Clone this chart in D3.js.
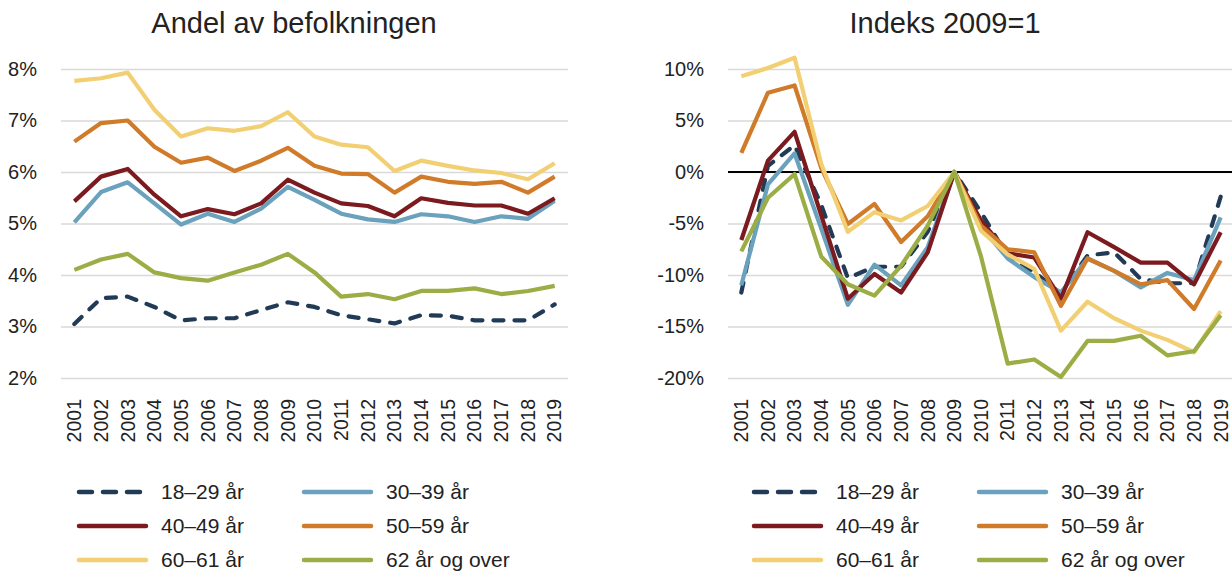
<!DOCTYPE html>
<html>
<head>
<meta charset="utf-8">
<script src="https://cdn.jsdelivr.net/npm/d3@7"></script>
<style>
  html, body { margin: 0; padding: 0; background: #fff; }
  svg { display: block; font-family: "Liberation Sans", Arial, sans-serif; }
</style>
</head>
<body>
<svg id="chart" width="1232" height="574"></svg>
<script>
const years = ["2001","2002","2003","2004","2005","2006","2007","2008","2009","2010","2011","2012","2013","2014","2015","2016","2017","2018","2019"];
const seriesNames = ["18–29 år", "30–39 år", "40–49 år", "50–59 år", "60–61 år", "62 år og over"];
const seriesColors = ["#213b56", "#6aa1bd", "#7b1a1f", "#d07b29", "#f1cf72", "#9bad45"];

// Andel av befolkningen (%)
const andel18 = [3.05, 3.55, 3.58, 3.38, 3.12, 3.16, 3.16, 3.32, 3.47, 3.38, 3.22, 3.14, 3.06, 3.22, 3.21, 3.12, 3.12, 3.12, 3.43];
const andel30 = [5.02, 5.61, 5.80, 5.39, 4.98, 5.19, 5.03, 5.29, 5.71, 5.46, 5.19, 5.08, 5.03, 5.18, 5.14, 5.03, 5.14, 5.09, 5.44];
const andel40 = [5.43, 5.91, 6.06, 5.56, 5.14, 5.28, 5.18, 5.39, 5.85, 5.60, 5.39, 5.34, 5.14, 5.49, 5.40, 5.35, 5.35, 5.19, 5.49];
const andel50 = [6.59, 6.95, 7.00, 6.49, 6.18, 6.28, 6.02, 6.22, 6.47, 6.12, 5.97, 5.96, 5.60, 5.91, 5.81, 5.77, 5.81, 5.60, 5.91];
const andel60 = [7.77, 7.82, 7.93, 7.21, 6.69, 6.85, 6.80, 6.89, 7.16, 6.69, 6.53, 6.48, 6.02, 6.22, 6.12, 6.03, 5.98, 5.86, 6.17];
const andel62 = [4.10, 4.30, 4.41, 4.05, 3.94, 3.89, 4.05, 4.20, 4.41, 4.05, 3.58, 3.63, 3.53, 3.69, 3.69, 3.74, 3.63, 3.69, 3.79];

// Indeks 2009=1 (% avvik)
const indeks18 = [-11.7, 0.6, 2.6, -3.2, -10.3, -9.2, -9.2, -5.8, 0, -3.9, -8.2, -9.7, -11.8, -8.1, -7.8, -10.4, -10.8, -10.8, -2.4];
const indeks30 = [-11.0, -1.2, 1.8, -5.5, -12.9, -9.0, -11.0, -7.3, 0, -5.3, -8.4, -10.2, -11.7, -8.4, -9.6, -11.2, -9.8, -10.5, -4.4];
const indeks40 = [-6.6, 1.1, 3.9, -4.2, -12.3, -9.9, -11.7, -7.8, 0, -4.7, -7.9, -8.3, -12.3, -5.85, -7.3, -8.8, -8.8, -10.9, -5.85];
const indeks50 = [1.85, 7.7, 8.4, 0.4, -5.05, -3.1, -6.8, -4.3, 0, -5.2, -7.5, -7.8, -13.0, -8.4, -9.6, -10.9, -10.5, -13.3, -8.6];
const indeks60 = [9.3, 10.1, 11.1, 0.8, -5.8, -3.9, -4.7, -3.3, 0, -5.7, -8.0, -9.4, -15.4, -12.6, -14.2, -15.4, -16.3, -17.5, -13.5];
const indeks62 = [-7.7, -2.5, -0.2, -8.2, -10.9, -12.0, -9.1, -5.2, 0, -8.2, -18.6, -18.2, -19.9, -16.4, -16.4, -15.9, -17.8, -17.4, -13.9];

const leftTicks = [2, 3, 4, 5, 6, 7, 8];
const rightTicks = [-20, -15, -10, -5, 0, 5, 10];

const svg = d3.select("#chart");
const textColor = "#222";
const gridColor = "#d9d9d9";

function panel(opts) {
  const g = svg.append("g");
  const x = d3.scaleBand().domain(years).range([opts.x0, opts.x1]);
  const y = d3.scaleLinear().domain(opts.domain).range([378, 69]);

  // title
  g.append("text")
    .attr("x", opts.titleX).attr("y", 33)
    .attr("text-anchor", "middle")
    .attr("font-size", 29)
    .attr("fill", textColor)
    .text(opts.title);

  // gridlines
  const yAxis = d3.axisLeft(y).tickValues(opts.ticks)
    .tickSize(-(opts.x1 - opts.x0)).tickFormat(d => d + "%").tickPadding(24);
  const ya = g.append("g").attr("transform", `translate(${opts.x0},0)`).call(yAxis);
  ya.select(".domain").remove();
  ya.selectAll(".tick line").attr("stroke", gridColor).attr("stroke-width", 1.5);
  ya.selectAll(".tick text").attr("font-size", 20).attr("fill", textColor)
    .attr("font-family", "'Liberation Sans', Arial, sans-serif");

  if (opts.zeroLine) {
    g.append("line")
      .attr("x1", opts.x0).attr("x2", opts.x1)
      .attr("y1", y(0)).attr("y2", y(0))
      .attr("stroke", "#000").attr("stroke-width", 2.2);
  }

  // x axis labels
  const xAxis = d3.axisBottom(x).tickSize(0).tickPadding(0);
  const xa = g.append("g").attr("transform", `translate(0,378)`).call(xAxis);
  xa.select(".domain").remove();
  xa.selectAll(".tick text")
    .attr("font-size", 19.5).attr("fill", textColor)
    .attr("font-family", "'Liberation Sans', Arial, sans-serif")
    .attr("text-anchor", "end")
    .attr("transform", "translate(0,21) rotate(-90)")
    .attr("x", 0).attr("y", 0).attr("dy", "0.35em");

  const line = d3.line()
    .x((d, i) => x(years[i]) + x.bandwidth() / 2)
    .y(d => y(d));

  opts.series.forEach((vals, k) => {
    g.append("path")
      .datum(vals)
      .attr("d", line)
      .attr("fill", "none")
      .attr("stroke", seriesColors[k])
      .attr("stroke-width", 4.2)
      .attr("stroke-linejoin", "round")
      .attr("stroke-linecap", k === 0 ? "round" : "butt")
      .attr("stroke-dasharray", k === 0 ? "10,11" : null);
  });

  // legend
  const cols = [opts.legendX, opts.legendX + 225];
  const rows = [492, 526, 560];
  seriesNames.forEach((name, k) => {
    const cx = cols[k % 2];
    const cy = rows[Math.floor(k / 2)];
    const lg = g.append("g");
    lg.append("line")
      .attr("x1", cx + 2).attr("x2", cx + 69)
      .attr("y1", cy).attr("y2", cy)
      .attr("stroke", seriesColors[k])
      .attr("stroke-width", 4.5)
      .attr("stroke-linecap", "round")
      .attr("stroke-dasharray", k === 0 ? "13,11" : null);
    lg.append("text")
      .attr("x", cx + 84).attr("y", cy).attr("dy", "0.35em")
      .attr("font-size", 21).attr("fill", textColor)
      .text(name);
  });
}

panel({
  title: "Andel av befolkningen", titleX: 294,
  x0: 61, x1: 568, domain: [2, 8], ticks: leftTicks,
  series: [andel18, andel30, andel40, andel50, andel60, andel62],
  legendX: 77, zeroLine: false
});

panel({
  title: "Indeks 2009=1", titleX: 945,
  x0: 728, x1: 1234, domain: [-20, 10], ticks: rightTicks,
  series: [indeks18, indeks30, indeks40, indeks50, indeks60, indeks62],
  legendX: 752, zeroLine: true
});
</script>
</body>
</html>
